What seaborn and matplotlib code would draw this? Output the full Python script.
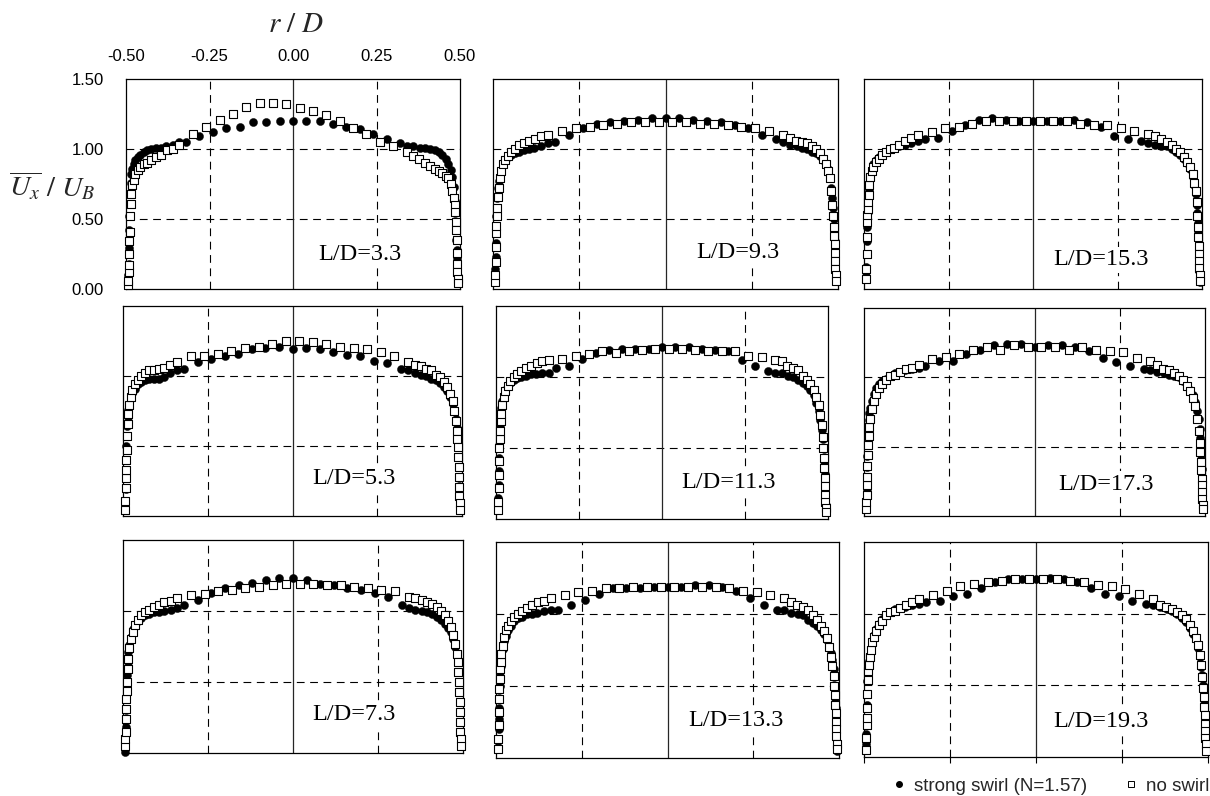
import numpy as np
import pandas as pd
import matplotlib
matplotlib.use("Agg")
import matplotlib.pyplot as plt
from matplotlib.lines import Line2D
import seaborn as sns

# measurement stations, in the order the panels are laid out (row by row)
stations = ["L/D=3.3", "L/D=9.3", "L/D=15.3",
            "L/D=5.3", "L/D=11.3", "L/D=17.3",
            "L/D=7.3", "L/D=13.3", "L/D=19.3"]

# radial positions r/D
r_swirl = [-0.493, -0.493, -0.492, -0.492, -0.491, -0.490, -0.489, -0.488, -0.486,
           -0.484, -0.481, -0.477, -0.472, -0.465, -0.457, -0.447, -0.436, -0.424,
           -0.410, -0.395, -0.380, -0.360, -0.340, -0.320,
           -0.28, -0.24, -0.20, -0.16, -0.12, -0.08, -0.04, 0.00, 0.04, 0.08, 0.12,
           0.16, 0.20, 0.24, 0.28,
           0.320, 0.340, 0.360, 0.380, 0.395, 0.410,
           0.424, 0.436, 0.447, 0.457, 0.465, 0.472, 0.477, 0.481, 0.484, 0.486,
           0.488, 0.489, 0.490, 0.491, 0.492, 0.492, 0.493, 0.493]
r_noswirl = [-0.493, -0.493, -0.492, -0.492, -0.491, -0.490, -0.489, -0.488, -0.486,
             -0.484, -0.481, -0.477, -0.472, -0.465, -0.457, -0.447, -0.436, -0.424,
             -0.410, -0.395, -0.378, -0.360, -0.340,
             -0.30, -0.26, -0.22, -0.18, -0.14, -0.10, -0.06, -0.02, 0.02, 0.06, 0.10,
             0.14, 0.18, 0.22, 0.26, 0.30,
             0.340, 0.360, 0.378, 0.395, 0.410,
             0.424, 0.436, 0.447, 0.457, 0.465, 0.472, 0.477, 0.481, 0.484, 0.486,
             0.488, 0.489, 0.490, 0.491, 0.492, 0.492, 0.493, 0.493]

# Ux/UB, strong swirl (N=1.57)
u_swirl_33 = [0.04, 0.10, 0.18, 0.29, 0.42, 0.52, 0.61, 0.68, 0.76, 0.82, 0.86, 0.89, 0.92, 0.94, 0.96, 0.98, 0.99, 1.00,
              1.01, 1.01, 1.02, 1.03, 1.05, 1.05,
              1.09, 1.12, 1.15, 1.16, 1.19, 1.19, 1.20, 1.20, 1.20, 1.20, 1.18, 1.16, 1.14, 1.11, 1.07,
              1.04, 1.02, 1.02, 1.01, 1.01, 1.00,
              0.99, 0.98, 0.96, 0.93, 0.89, 0.85, 0.80, 0.73, 0.63, 0.54, 0.44, 0.35, 0.28, 0.22, 0.16, 0.12, 0.09, 0.05]
u_swirl_93 = [0.07, 0.14, 0.23, 0.33, 0.44, 0.52, 0.58, 0.65, 0.72, 0.77, 0.81, 0.85, 0.89, 0.92, 0.94, 0.96, 0.97, 0.98,
              0.99, 1.00, 1.01, 1.02, 1.04, 1.05,
              1.10, 1.15, 1.18, 1.19, 1.20, 1.21, 1.22, 1.22, 1.22, 1.21, 1.20, 1.19, 1.17, 1.15, 1.10,
              1.07, 1.05, 1.03, 1.02, 1.01, 1.00,
              0.98, 0.97, 0.95, 0.92, 0.89, 0.86, 0.80, 0.72, 0.65, 0.58, 0.50, 0.42, 0.34, 0.27, 0.20, 0.14, 0.10, 0.06]
u_swirl_153 = [0.09, 0.16, 0.25, 0.34, 0.44, 0.50, 0.55, 0.64, 0.71, 0.76, 0.80, 0.85, 0.89, 0.92, 0.94, 0.96, 0.98, 1.00,
               1.01, 1.02, 1.03, 1.04, 1.06, 1.07,
               1.08, 1.13, 1.17, 1.21, 1.22, 1.21, 1.20, 1.20, 1.20, 1.20, 1.21, 1.19, 1.16, 1.09, 1.07,
               1.06, 1.04, 1.03, 1.02, 1.02, 1.00,
               0.98, 0.96, 0.93, 0.90, 0.86, 0.80, 0.74, 0.68, 0.60, 0.54, 0.47, 0.40, 0.32, 0.25, 0.18, 0.13, 0.09, 0.05]
u_swirl_53 = [0.04, 0.09, 0.19, 0.28, 0.40, 0.50, 0.57, 0.64, 0.71, 0.76, 0.80, 0.84, 0.88, 0.91, 0.94, 0.96, 0.97, 0.98,
              0.98, 0.98, 0.99, 1.02, 1.04, 1.05,
              1.10, 1.12, 1.14, 1.16, 1.19, 1.20, 1.21, 1.19, 1.20, 1.19, 1.17, 1.15, 1.14, 1.11, 1.09,
              1.05, 1.04, 1.02, 1.01, 1.00, 0.98,
              0.97, 0.95, 0.92, 0.89, 0.85, 0.80, 0.75, 0.69, 0.63, 0.57, 0.50, 0.42, 0.35, 0.27, 0.20, 0.14, 0.09, 0.04]
u_swirl_113 = [0.08, 0.15, 0.24, 0.34, 0.43, 0.52, 0.59, 0.66, 0.73, 0.78, 0.83, 0.87, 0.91, 0.94, 0.96, 0.98, 0.99, 1.00,
               1.01, 1.02, 1.02, 1.03, 1.03, 1.06,
               1.08, 1.13, 1.17, 1.19, 1.20, 1.20, 1.20, 1.21, 1.21, 1.21, 1.20, 1.19, 1.18, 1.12, 1.08,
               1.04, 1.03, 1.03, 1.01, 1.00, 0.98,
               0.96, 0.94, 0.91, 0.87, 0.82, 0.76, 0.70, 0.63, 0.56, 0.50, 0.44, 0.38, 0.32, 0.26, 0.20, 0.15, 0.10, 0.06]
u_swirl_173 = [0.05, 0.11, 0.18, 0.27, 0.35, 0.43, 0.51, 0.60, 0.69, 0.74, 0.78, 0.83, 0.88, 0.92, 0.95, 0.97, 0.99, 1.01,
               1.03, 1.04, 1.05, 1.06, 1.07, 1.08,
               1.12, 1.12, 1.17, 1.20, 1.23, 1.24, 1.24, 1.22, 1.23, 1.23, 1.22, 1.19, 1.14, 1.11, 1.08,
               1.06, 1.05, 1.04, 1.03, 1.02, 1.01,
               1.00, 0.97, 0.94, 0.91, 0.87, 0.82, 0.76, 0.70, 0.63, 0.56, 0.49, 0.41, 0.34, 0.27, 0.20, 0.14, 0.09, 0.05]
u_swirl_73 = [0.01, 0.10, 0.18, 0.25, 0.31, 0.38, 0.47, 0.55, 0.64, 0.71, 0.76, 0.82, 0.87, 0.90, 0.93, 0.95, 0.97, 0.98,
              0.99, 0.99, 1.00, 1.01, 1.02, 1.04,
              1.08, 1.13, 1.16, 1.18, 1.20, 1.22, 1.23, 1.23, 1.22, 1.19, 1.18, 1.16, 1.15, 1.13, 1.10,
              1.04, 1.02, 1.01, 1.00, 0.99, 0.98,
              0.96, 0.94, 0.91, 0.88, 0.85, 0.80, 0.75, 0.70, 0.64, 0.57, 0.50, 0.43, 0.36, 0.29, 0.22, 0.15, 0.10, 0.05]
u_swirl_133 = [0.06, 0.12, 0.20, 0.27, 0.35, 0.42, 0.50, 0.57, 0.64, 0.70, 0.76, 0.81, 0.85, 0.89, 0.92, 0.95, 0.97, 0.98,
               1.00, 1.00, 1.01, 1.02, 1.03, 1.03,
               1.06, 1.10, 1.14, 1.18, 1.18, 1.18, 1.19, 1.19, 1.19, 1.20, 1.20, 1.19, 1.16, 1.11, 1.06,
               1.03, 1.03, 1.01, 1.00, 0.99, 0.96,
               0.94, 0.92, 0.89, 0.86, 0.82, 0.78, 0.73, 0.68, 0.62, 0.56, 0.49, 0.42, 0.35, 0.27, 0.20, 0.14, 0.09, 0.05]
u_swirl_193 = [0.09, 0.16, 0.27, 0.36, 0.44, 0.53, 0.58, 0.62, 0.67, 0.71, 0.76, 0.80, 0.85, 0.89, 0.93, 0.96, 0.99, 1.01,
               1.03, 1.04, 1.05, 1.06, 1.07, 1.08,
               1.09, 1.12, 1.14, 1.18, 1.22, 1.24, 1.24, 1.24, 1.25, 1.24, 1.22, 1.18, 1.14, 1.12, 1.09,
               1.07, 1.06, 1.05, 1.03, 1.02, 1.00,
               0.97, 0.94, 0.90, 0.86, 0.82, 0.76, 0.70, 0.63, 0.57, 0.50, 0.44, 0.37, 0.31, 0.25, 0.19, 0.13, 0.09, 0.06]

# Ux/UB, no swirl
u_noswirl_33 = [0.03, 0.06, 0.12, 0.17, 0.25, 0.34, 0.41, 0.52, 0.61, 0.68, 0.74, 0.78, 0.82, 0.85, 0.87, 0.89, 0.90, 0.92,
                0.94, 0.96, 0.99, 1.00, 1.03,
                1.11, 1.16, 1.21, 1.25, 1.30, 1.33, 1.33, 1.32, 1.29, 1.27, 1.24, 1.20, 1.15, 1.11, 1.05, 1.02,
                0.98, 0.95, 0.93, 0.90, 0.88,
                0.86, 0.84, 0.83, 0.81, 0.79, 0.75, 0.70, 0.65, 0.60, 0.55, 0.48, 0.42, 0.35, 0.26, 0.18, 0.12, 0.07, 0.04]
u_noswirl_93 = [0.05, 0.10, 0.19, 0.30, 0.40, 0.45, 0.52, 0.58, 0.66, 0.72, 0.79, 0.84, 0.89, 0.92, 0.95, 0.98, 1.00, 1.03,
                1.04, 1.06, 1.07, 1.09, 1.10,
                1.13, 1.15, 1.16, 1.17, 1.18, 1.19, 1.19, 1.19, 1.19, 1.19, 1.18, 1.18, 1.17, 1.16, 1.15, 1.13,
                1.10, 1.08, 1.06, 1.05, 1.04,
                1.02, 1.00, 0.97, 0.93, 0.89, 0.84, 0.79, 0.70, 0.60, 0.52, 0.44, 0.38, 0.32, 0.26, 0.20, 0.14, 0.10, 0.06]
u_noswirl_153 = [0.07, 0.14, 0.25, 0.37, 0.48, 0.53, 0.57, 0.62, 0.67, 0.74, 0.80, 0.84, 0.87, 0.91, 0.93, 0.96, 0.98, 1.00,
                 1.01, 1.03, 1.06, 1.08, 1.10,
                 1.12, 1.15, 1.16, 1.18, 1.20, 1.20, 1.20, 1.20, 1.20, 1.20, 1.20, 1.18, 1.17, 1.17, 1.15, 1.13,
                 1.11, 1.09, 1.07, 1.05, 1.03,
                 1.00, 0.98, 0.94, 0.91, 0.87, 0.82, 0.76, 0.70, 0.62, 0.52, 0.44, 0.37, 0.31, 0.25, 0.20, 0.15, 0.10, 0.06]
u_noswirl_53 = [0.04, 0.11, 0.20, 0.27, 0.33, 0.40, 0.47, 0.57, 0.66, 0.73, 0.79, 0.85, 0.90, 0.94, 0.97, 1.00, 1.02, 1.04,
                1.04, 1.05, 1.06, 1.08, 1.10,
                1.14, 1.14, 1.16, 1.18, 1.20, 1.21, 1.23, 1.25, 1.25, 1.24, 1.23, 1.21, 1.20, 1.19, 1.17, 1.14,
                1.10, 1.08, 1.07, 1.05, 1.04,
                1.01, 0.99, 0.96, 0.92, 0.87, 0.82, 0.75, 0.68, 0.61, 0.55, 0.49, 0.42, 0.35, 0.28, 0.21, 0.14, 0.09, 0.04]
u_noswirl_113 = [0.06, 0.12, 0.22, 0.31, 0.41, 0.50, 0.56, 0.62, 0.69, 0.74, 0.80, 0.86, 0.90, 0.94, 0.97, 1.00, 1.02, 1.04,
                 1.06, 1.08, 1.10, 1.11, 1.12,
                 1.13, 1.15, 1.16, 1.18, 1.17, 1.18, 1.19, 1.20, 1.20, 1.20, 1.19, 1.18, 1.18, 1.18, 1.15, 1.14,
                 1.12, 1.11, 1.08, 1.06, 1.05,
                 1.01, 0.98, 0.95, 0.91, 0.86, 0.80, 0.73, 0.66, 0.58, 0.50, 0.43, 0.36, 0.29, 0.23, 0.17, 0.12, 0.08, 0.05]
u_noswirl_173 = [0.05, 0.10, 0.15, 0.22, 0.28, 0.36, 0.44, 0.51, 0.58, 0.64, 0.70, 0.77, 0.83, 0.88, 0.92, 0.95, 0.98, 1.01,
                 1.02, 1.04, 1.06, 1.07, 1.09,
                 1.13, 1.15, 1.17, 1.20, 1.22, 1.20, 1.23, 1.22, 1.22, 1.22, 1.20, 1.22, 1.20, 1.19, 1.18, 1.14,
                 1.12, 1.09, 1.06, 1.05, 1.03,
                 1.01, 0.98, 0.94, 0.90, 0.85, 0.79, 0.70, 0.61, 0.53, 0.46, 0.39, 0.33, 0.27, 0.22, 0.17, 0.12, 0.08, 0.05]
u_noswirl_73 = [0.05, 0.10, 0.15, 0.24, 0.31, 0.38, 0.44, 0.50, 0.59, 0.66, 0.74, 0.80, 0.85, 0.90, 0.94, 0.97, 0.99, 1.01,
                1.03, 1.04, 1.06, 1.07, 1.09,
                1.11, 1.12, 1.14, 1.15, 1.16, 1.17, 1.18, 1.19, 1.19, 1.19, 1.18, 1.18, 1.17, 1.16, 1.15, 1.14,
                1.10, 1.09, 1.08, 1.06, 1.05,
                1.03, 1.00, 0.97, 0.93, 0.89, 0.83, 0.77, 0.70, 0.64, 0.57, 0.50, 0.43, 0.36, 0.29, 0.22, 0.15, 0.10, 0.05]
u_noswirl_133 = [0.06, 0.13, 0.23, 0.32, 0.41, 0.48, 0.55, 0.62, 0.67, 0.72, 0.78, 0.84, 0.89, 0.92, 0.95, 0.98, 1.00, 1.02,
                 1.04, 1.06, 1.08, 1.09, 1.11,
                 1.13, 1.15, 1.16, 1.18, 1.18, 1.19, 1.19, 1.19, 1.19, 1.19, 1.19, 1.19, 1.18, 1.16, 1.15, 1.13,
                 1.11, 1.08, 1.06, 1.05, 1.03,
                 0.99, 0.96, 0.92, 0.88, 0.83, 0.77, 0.70, 0.64, 0.57, 0.50, 0.44, 0.37, 0.31, 0.25, 0.20, 0.15, 0.10, 0.06]
u_noswirl_193 = [0.05, 0.13, 0.22, 0.27, 0.34, 0.44, 0.54, 0.60, 0.64, 0.70, 0.75, 0.80, 0.84, 0.88, 0.92, 0.95, 0.99, 1.01,
                 1.02, 1.04, 1.06, 1.08, 1.10,
                 1.13, 1.16, 1.19, 1.21, 1.22, 1.23, 1.24, 1.24, 1.24, 1.24, 1.23, 1.22, 1.20, 1.19, 1.17, 1.14,
                 1.10, 1.06, 1.05, 1.03, 1.01,
                 0.99, 0.96, 0.92, 0.88, 0.83, 0.78, 0.71, 0.64, 0.56, 0.48, 0.42, 0.35, 0.29, 0.23, 0.18, 0.13, 0.09, 0.04]

swirl_sets = [u_swirl_33, u_swirl_93, u_swirl_153, u_swirl_53, u_swirl_113,
              u_swirl_173, u_swirl_73, u_swirl_133, u_swirl_193]
noswirl_sets = [u_noswirl_33, u_noswirl_93, u_noswirl_153, u_noswirl_53, u_noswirl_113,
                u_noswirl_173, u_noswirl_73, u_noswirl_133, u_noswirl_193]

x_ticks = [-0.50, -0.25, 0.00, 0.25, 0.50]
y_ticks = [0.00, 0.50, 1.00, 1.50]

# panel frames in pixels: left, top, right, bottom (the scanned panels are a bit uneven)
W, H = 1210, 796
frames = [(126, 79, 460, 289), (493, 79, 838, 289), (864, 79, 1202, 289),
          (123, 306, 462, 516), (496, 306, 828, 519), (864, 308, 1205, 516),
          (123, 540, 463, 753), (496, 542, 839, 758), (864, 542, 1208, 757)]
label_pos = [(0.20, 0.25), (0.21, 0.26), (0.20, 0.21),
             (0.18, 0.27), (0.20, 0.26), (0.21, 0.23),
             (0.18, 0.27), (0.20, 0.26), (0.19, 0.25)]

sns.set_theme(style="white")
plt.rcParams['font.family'] = ['Liberation Sans', 'DejaVu Sans']
plt.rcParams['mathtext.fontset'] = 'stix'

fig = plt.figure(figsize=(W / 100, H / 100), dpi=100)
dash = (0, (7, 5))

for i, (l, t, r, b) in enumerate(frames):
    ax = fig.add_axes([l / W, 1 - b / H, (r - l) / W, (b - t) / H])
    assert len(swirl_sets[i]) == len(r_swirl)
    assert len(noswirl_sets[i]) == len(r_noswirl)

    for xv in (-0.25, 0.25):
        ax.axvline(xv, color='black', lw=0.8, ls=dash, zorder=1)
    for yv in (0.5, 1.0):
        ax.axhline(yv, color='black', lw=0.8, ls=dash, zorder=1)
    ax.axvline(0.0, color='0.15', lw=0.9, zorder=1)

    df_s = pd.DataFrame({'r': r_swirl, 'u': swirl_sets[i]})
    df_n = pd.DataFrame({'r': r_noswirl, 'u': noswirl_sets[i]})
    sns.scatterplot(data=df_s, x='r', y='u', ax=ax, marker='o', s=34,
                    color='black', edgecolor='black', linewidth=0.3, zorder=3, clip_on=False)
    sns.scatterplot(data=df_n, x='r', y='u', ax=ax, marker='s', s=30,
                    color='white', edgecolor='black', linewidth=0.8, zorder=4, clip_on=False)

    ax.set_xlim(-0.5, 0.5)
    ax.set_ylim(0.0, 1.5)
    ax.set_xlabel('')
    ax.set_ylabel('')
    for sp in ax.spines.values():
        sp.set_color('black')
        sp.set_linewidth(0.9)

    tx, ty = label_pos[i]
    ax.text(tx, ty, stations[i], ha='center', va='center', fontsize=17.5,
            family=['Liberation Serif', 'DejaVu Serif'], color='black', zorder=2,
            bbox=dict(boxstyle='square,pad=0.1', facecolor='white', edgecolor='none'))

    if i == 0:
        ax.xaxis.tick_top()
        ax.set_xticks(x_ticks)
        ax.set_xticklabels([f"{v:.2f}" for v in x_ticks])
        ax.set_yticks(y_ticks)
        ax.set_yticklabels([f"{v:.2f}" for v in y_ticks])
        ax.tick_params(axis='x', top=True, bottom=False, length=0, pad=10.5, labelsize=12, colors='black')
        ax.tick_params(axis='y', left=True, length=0, pad=16, labelsize=12, colors='black')
    elif i == 8:
        ax.set_xticks(x_ticks)
        ax.set_yticks([])
        ax.tick_params(axis='x', bottom=True, length=4, width=0.8, direction='out',
                       labelbottom=False, color='black')
    else:
        ax.set_xticks([])
        ax.set_yticks([])

fig.text(296 / W, 1 - 24 / H, r'$r\ /\ D$', ha='center', va='center', fontsize=21)
fig.text(52 / W, 1 - 186 / H, r'$\overline{U_x}\ /\ U_B$', ha='center', va='center', fontsize=20.5)

handles = [Line2D([], [], ls='none', marker='o', markersize=4, color='black'),
           Line2D([], [], ls='none', marker='s', markersize=4.5, markerfacecolor='white',
                  markeredgecolor='black', markeredgewidth=0.7)]
fig.legend(handles, ['strong swirl (N=1.57)', 'no swirl'], loc='center right',
           bbox_to_anchor=(1209 / W, 1 - 786 / H), ncol=2, frameon=False, fontsize=13.5,
           handlelength=0.8, handletextpad=0.4, columnspacing=1.9, borderpad=0.0,
           borderaxespad=0.0)

fig.savefig('out.png', dpi=100)
